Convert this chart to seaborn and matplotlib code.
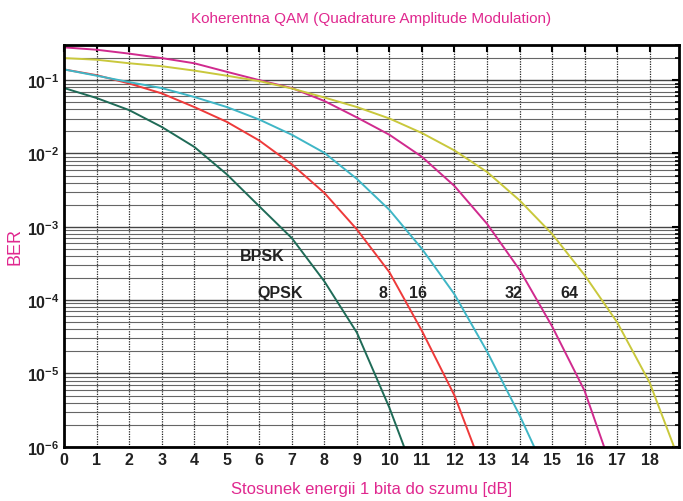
import numpy as np
import pandas as pd
import matplotlib
matplotlib.use("Agg")
import matplotlib.pyplot as plt
import seaborn as sns

# Eb/N0 [dB] and BER
snr_bpsk = [0, 1, 2, 3, 4, 5, 6, 7, 8, 9, 10, 10.45]
ber_bpsk = [0.078, 0.057, 0.039, 0.023, 0.0123, 0.0052, 0.0019, 7.0e-4, 1.8e-4, 3.6e-5, 3.4e-6, 1e-6]

snr_8 = [0, 1, 2, 3, 4, 5, 6, 7, 8, 9, 10, 11, 12, 12.6]
ber_8 = [0.14, 0.117, 0.09, 0.066, 0.043, 0.027, 0.015, 0.0071, 0.0029, 9.2e-4, 2.4e-4, 3.8e-5, 5.0e-6, 1e-6]

snr_16 = [0, 1, 2, 3, 4, 5, 6, 7, 8, 9, 10, 11, 12, 13, 14, 14.45]
ber_16 = [0.14, 0.115, 0.094, 0.078, 0.059, 0.043, 0.029, 0.018, 0.0102, 0.0045, 0.0017, 5.0e-4, 1.2e-4, 2.0e-5, 2.7e-6, 1e-6]

snr_32 = [0, 1, 2, 3, 4, 5, 6, 7, 8, 9, 10, 11, 12, 13, 14, 15, 16, 16.6]
ber_32 = [0.28, 0.26, 0.23, 0.20, 0.17, 0.13, 0.10, 0.078, 0.052, 0.031, 0.018, 0.009, 0.0036, 1.1e-3,
          2.6e-4, 4.4e-5, 5.8e-6, 1e-6]

snr_64 = [0, 1, 2, 3, 4, 5, 6, 7, 8, 9, 10, 11, 12, 13, 14, 15, 16, 17, 18, 18.75]
ber_64 = [0.20, 0.19, 0.17, 0.155, 0.135, 0.115, 0.097, 0.077, 0.058, 0.043, 0.030, 0.019, 0.011, 0.0056,
          0.0023, 8.0e-4, 2.2e-4, 5.0e-5, 7.5e-6, 1e-6]

labels = ["BPSK", "QPSK", "8", "16", "32", "64"]
label_x = [5.4, 5.95, 9.65, 10.6, 13.55, 15.25]
label_y = [4.0e-4, 1.26e-4, 1.26e-4, 1.26e-4, 1.26e-4, 1.26e-4]

series = [
    (snr_bpsk, ber_bpsk, "#1f6b57"),
    (snr_8, ber_8, "#ee3a3a"),
    (snr_16, ber_16, "#3fb6c6"),
    (snr_32, ber_32, "#d02a8e"),
    (snr_64, ber_64, "#c9c83c"),
]

sns.set_style("white")
plt.rcParams['font.family'] = ['Liberation Sans', 'DejaVu Sans']
plt.rcParams['mathtext.default'] = 'regular'

fig = plt.figure(figsize=(6.83, 5.02), dpi=100)
ax = fig.add_axes([0.094, 0.108, 0.9, 0.8])

for x, y, c in series:
    sns.lineplot(x=x, y=y, ax=ax, color=c, linewidth=1.4, sort=False)

ax.set_yscale("log")
ax.set_xlim(0, 18.9)
ax.set_ylim(1e-6, 0.3)
ax.set_xticks(range(0, 19))

ax.grid(True, which="major", axis="y", color="#444444", linewidth=1.0, linestyle="-")
ax.grid(True, which="minor", axis="y", color="#666666", linewidth=0.8, linestyle="-")
ax.grid(True, which="major", axis="x", color="#222222", linewidth=0.9, linestyle=(0, (1, 1)))
ax.set_axisbelow(True)

for s in ax.spines.values():
    s.set_linewidth(2)
    s.set_color("black")

ax.tick_params(axis="both", which="both", direction="in", top=True, right=True, color="black")
ax.tick_params(axis="both", which="major", length=5, width=1.5, labelsize=11.5)
ax.tick_params(axis="y", which="minor", length=3, width=1.2)
for t in ax.get_xticklabels() + ax.get_yticklabels():
    t.set_fontweight("bold")
    t.set_color("#222222")

for txt, lx, ly in zip(labels, label_x, label_y):
    ax.text(lx, ly, txt, fontsize=11.5, fontweight="bold", color="#222222", va="center", ha="left")

pink = "#e0288f"
ax.set_xlabel("Stosunek energii 1 bita do szumu [dB]", color=pink, fontsize=12, labelpad=10)
ax.set_ylabel("BER", color=pink, fontsize=13, labelpad=2)
ax.set_title("Koherentna QAM (Quadrature Amplitude Modulation)", color=pink, fontsize=11, pad=17)

fig.savefig("out.png", dpi=100)
